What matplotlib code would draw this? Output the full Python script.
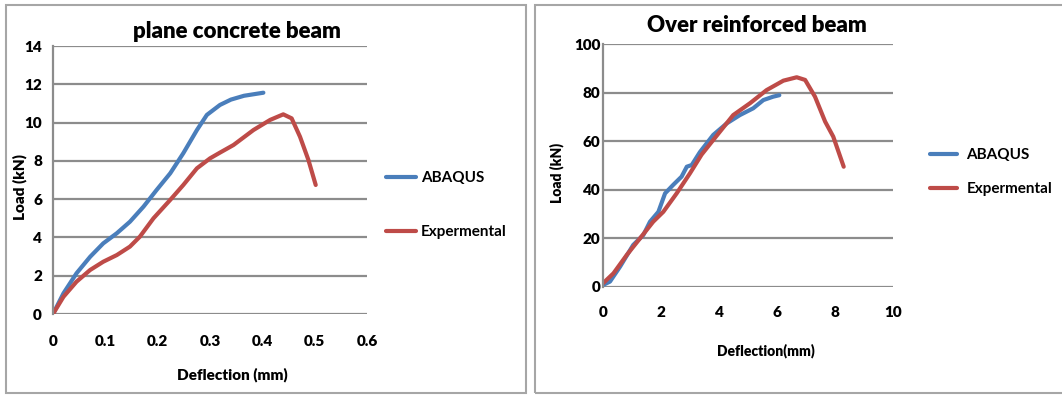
import matplotlib.pyplot as plt
from matplotlib.patches import Rectangle

plt.rcParams['font.family'] = ['Lato', 'DejaVu Sans']
plt.rcParams['font.weight'] = 'bold'

# plane concrete beam: deflection (mm) vs load (kN)
plain_abaqus_x = [0, 0.02, 0.045, 0.071, 0.096, 0.122, 0.147, 0.173, 0.198, 0.224, 0.249,
                  0.275, 0.294, 0.319, 0.34, 0.365, 0.402]
plain_abaqus_y = [0, 1.08, 2.13, 2.99, 3.69, 4.22, 4.82, 5.61, 6.48, 7.35, 8.4,
                  9.61, 10.4, 10.92, 11.2, 11.4, 11.56]
plain_exp_x = [0, 0.02, 0.045, 0.071, 0.096, 0.122, 0.147, 0.166, 0.192, 0.224, 0.249,
               0.275, 0.3, 0.319, 0.345, 0.383, 0.415, 0.44, 0.456, 0.472, 0.488, 0.502]
plain_exp_y = [0, 0.9, 1.69, 2.3, 2.73, 3.08, 3.52, 4.04, 5.0, 5.96, 6.74,
               7.61, 8.13, 8.43, 8.83, 9.61, 10.14, 10.43, 10.22, 9.26, 8.05, 6.74]

# over reinforced beam
over_abaqus_x = [0, 0.24, 0.59, 1.04, 1.39, 1.62, 1.91, 2.14, 2.42, 2.71, 2.89, 3.06, 3.34,
                 3.8, 4.27, 4.72, 5.18, 5.53, 5.87, 6.08]
over_abaqus_y = [0.7, 2.1, 8.3, 17.2, 21.3, 26.8, 30.9, 38.5, 42, 45.4, 49.5, 50.2, 55.5,
                 62.6, 67.4, 70.8, 73.6, 77, 78.4, 79]
over_exp_x = [0, 0.36, 0.82, 1.28, 1.73, 2.08, 2.54, 3.0, 3.4, 3.8, 4.49, 5.07, 5.64,
              6.22, 6.68, 6.97, 7.31, 7.66, 7.94, 8.3]
over_exp_y = [1.4, 5.5, 13.1, 20, 26.8, 30.9, 38.5, 46.8, 54.5, 60.5, 70.8, 75.7, 81.1,
              85, 86.4, 85.3, 78.4, 68.1, 61.9, 49.5]

BLUE = '#4a7ebb'
RED = '#be4b48'
GRID = '#8c8c8c'
W, H = 1062, 396

fig = plt.figure(figsize=(W / 100, H / 100), dpi=100)

# panel frames
for x0, x1 in [(6, 526), (535, 1068)]:
    fig.patches.append(Rectangle((x0 / W, 1 - 393 / H), (x1 - x0) / W, 388 / H,
                                 transform=fig.transFigure, fill=False,
                                 edgecolor='#a6a6a6', linewidth=1.5))


def style_axes(ax, yticks, xticks, xlabels, xpad, ypad):
    ax.set_yticks(yticks)
    ax.set_xticks(xticks)
    ax.set_xticklabels(xlabels)
    ax.grid(axis='y', color=GRID, linewidth=1.6)
    ax.set_axisbelow(True)
    for side in ['top', 'right', 'bottom']:
        ax.spines[side].set_visible(False)
    ax.spines['left'].set_color(GRID)
    ax.spines['left'].set_linewidth(1.6)
    ax.tick_params(length=0, labelsize=11)
    ax.tick_params(axis='x', pad=xpad)
    ax.tick_params(axis='y', pad=ypad)
    for lab in ax.get_xticklabels() + ax.get_yticklabels():
        lab.set_fontweight('heavy')


def draw(ax, xa, ya, xe, ye):
    la, = ax.plot(xa, ya, color=BLUE, linewidth=3, solid_capstyle='round',
                  solid_joinstyle='round')
    le, = ax.plot(xe, ye, color=RED, linewidth=3, solid_capstyle='round',
                  solid_joinstyle='round')
    return la, le


# left chart
ax1 = fig.add_axes([53 / W, 1 - 314 / H, (367 - 53) / W, (314 - 46) / H])
l1, l2 = draw(ax1, plain_abaqus_x, plain_abaqus_y, plain_exp_x, plain_exp_y)
ax1.set_xlim(0, 0.6)
ax1.set_ylim(0, 14)
style_axes(ax1, range(0, 15, 2), [0, 0.1, 0.2, 0.3, 0.4, 0.5, 0.6],
           ['0', '0.1', '0.2', '0.3', '0.4', '0.5', '0.6'], 15, 8)
fig.text(237 / W, 1 - 32 / H, 'plane concrete beam', fontsize=16, fontweight='heavy',
         ha='center', va='center')
ax1.set_ylabel('Load (kN)', fontsize=11, fontweight='heavy')
ax1.yaxis.set_label_coords(-0.083, 0.474)
ax1.set_xlabel('Deflection (mm)', fontsize=11, fontweight='heavy')
ax1.xaxis.set_label_coords(0.57, -0.2)
leg1 = ax1.legend([l1, l2], ['ABAQUS', 'Expermental'], loc='center left',
                  bbox_to_anchor=(372 / W, 1 - 205 / H), bbox_transform=fig.transFigure,
                  frameon=False, fontsize=11, handlelength=2.0, handletextpad=0.3,
                  labelspacing=2.6)

# right chart
ax2 = fig.add_axes([603 / W, 1 - 286.7 / H, (893 - 603) / W, (286.7 - 44.3) / H])
l3, l4 = draw(ax2, over_abaqus_x, over_abaqus_y, over_exp_x, over_exp_y)
ax2.set_xlim(0, 10)
ax2.set_ylim(0, 100)
style_axes(ax2, range(0, 101, 20), range(0, 11, 2),
           [str(v) for v in range(0, 11, 2)], 14, 2)
fig.text(757 / W, 1 - 26 / H, 'Over reinforced beam', fontsize=16, fontweight='heavy',
         ha='center', va='center')
ax2.set_ylabel('Load (kN)', fontsize=10, fontweight='heavy')
ax2.yaxis.set_label_coords(-0.134, 0.469)
ax2.set_xlabel('Deflection(mm)', fontsize=10, fontweight='heavy')
ax2.xaxis.set_label_coords(0.562, -0.232)
leg2 = ax2.legend([l3, l4], ['ABAQUS', 'Expermental'], loc='center left',
                  bbox_to_anchor=(916 / W, 1 - 172 / H), bbox_transform=fig.transFigure,
                  frameon=False, fontsize=11, handlelength=1.8, handletextpad=0.6,
                  labelspacing=1.3)
for leg in (leg1, leg2):
    for txt in leg.get_texts():
        txt.set_fontweight('bold')

fig.savefig('out.png', dpi=100)
